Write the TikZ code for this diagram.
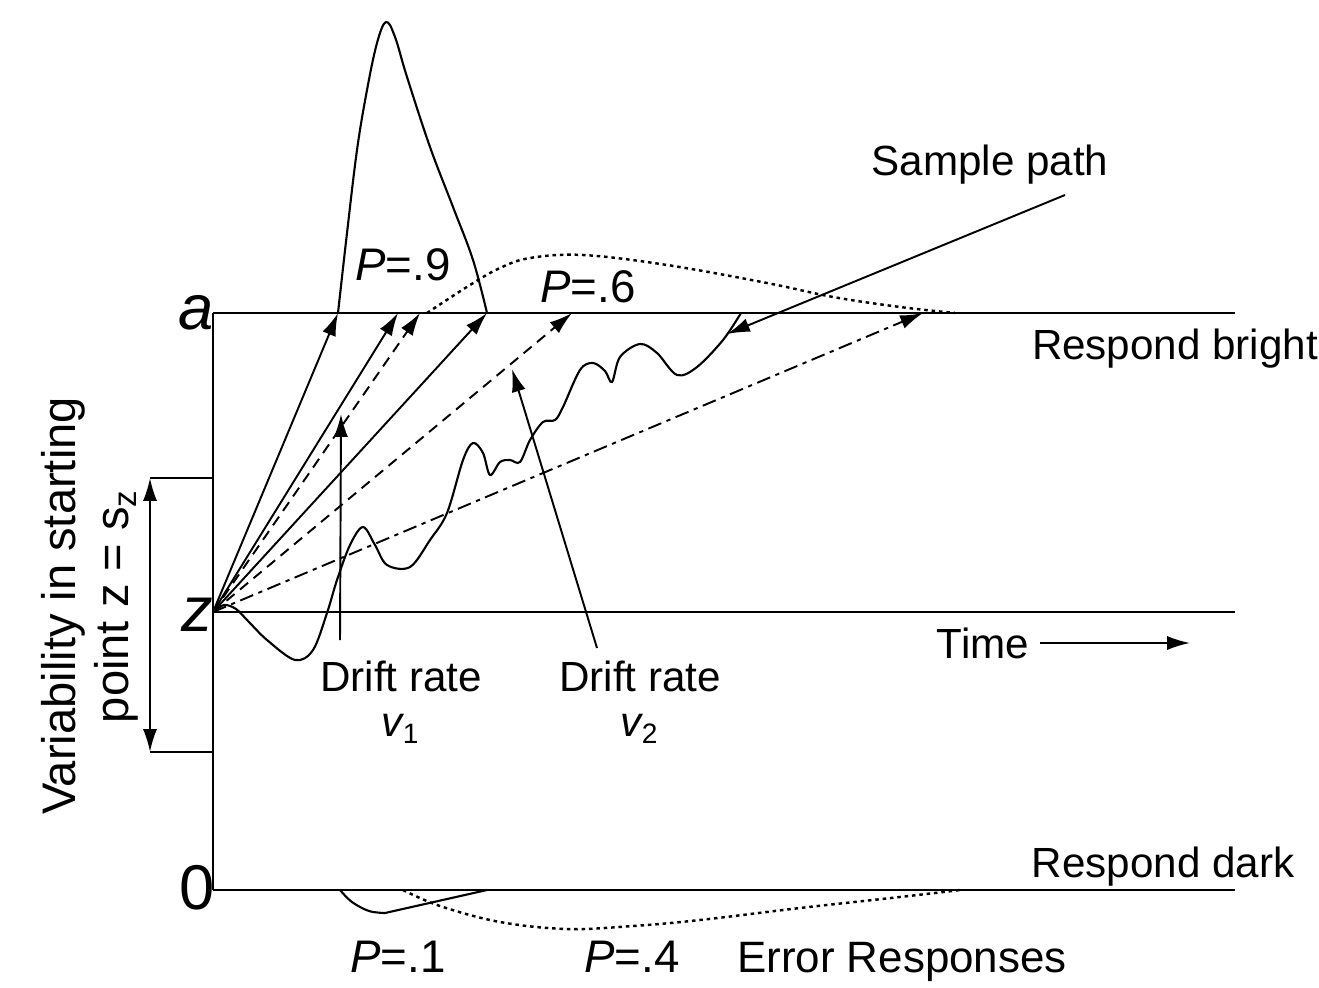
\documentclass[tikz,border=0pt]{standalone}
\usepackage{fontspec}
\setmainfont{Liberation Sans}
\usetikzlibrary{arrows.meta}

\begin{document}
\begin{tikzpicture}[x=0.1mm, y=-0.1mm,
      every node/.style={font=\fontsize{12}{13}\selectfont, inner sep=0pt},
      axis/.style={draw=black, line width=0.65pt},
      curve/.style={draw=black, line width=0.6pt},
      dots/.style={draw=black, line width=0.7pt, dash pattern=on 1pt off 1.1pt},
      pointer/.style={draw=black, line width=0.55pt, -{Latex[length=6.5pt,width=4pt]}},
      driftdash/.style={pointer, dash pattern=on 3pt off 2pt},
      driftlong/.style={pointer, dash pattern=on 4pt off 1.6pt on 1.2pt off 1.6pt},
      biglbl/.style={font=\fontsize{18}{18}\selectfont},
      plbl/.style={font=\fontsize{13}{14}\selectfont, anchor=base}]

    \useasboundingbox (0,0) rectangle (1319,987);

    % boundaries and start point
    \coordinate (a0) at (213,313);   \coordinate (aE) at (1235,313);
    \coordinate (z0) at (213,612);   \coordinate (zE) at (1235,612);
    \coordinate (o0) at (213,890);   \coordinate (oE) at (1235,890);
    \draw[axis] (a0) -- (aE);
    \draw[axis] (z0) -- (zE);
    \draw[axis] (o0) -- (oE);
    \draw[axis] (a0) -- (o0);
    \node[biglbl, font=\fontsize{18}{18}\selectfont\itshape] (lblA) at (196,313) {a};
    \node[biglbl, font=\fontsize{18}{18}\selectfont\itshape] (lblZ) at (197,615) {z};
    \node[biglbl] (lblO) at (197,888) {0};

    % range of starting point
    \coordinate (brTa) at (213,478);  \coordinate (brT) at (150,478);
    \coordinate (brBa) at (213,752);  \coordinate (brB) at (150,752);
    \draw[axis, line width=0.55pt] (brTa) -- (brT);
    \draw[axis, line width=0.55pt] (brBa) -- (brB);
    \draw[pointer, {Latex[length=6.5pt,width=4pt]}-{Latex[length=6.5pt,width=4pt]}] (brT) -- (brB);
    \node[rotate=90, align=center, font=\fontsize{13.4}{15}\selectfont] (szLbl) at (90,606)
      {Variability in starting\\point z = s\textsubscript{z}};

    % distributions of finishing times
    \draw[curve] plot[smooth, tension=0.6] coordinates {(338,313) (347,233) (357,150) (367,90)
      (377,43) (386,22) (395,37) (407,77) (430,147) (453,207) (473,260) (487,313)};
    \draw[dots] plot[smooth, tension=0.6] coordinates {(427,313) (470,285) (500,268) (530,258)
      (583,255) (667,265) (767,283) (833,297) (900,307) (955,313)};
    \draw[curve] plot[smooth, tension=0.6] coordinates {(340,890) (352,902) (369,911) (385,913)}
      -- (487,890);
    \draw[dots] plot[smooth, tension=0.6] coordinates {(403,890) (440,906) (500,922) (567,929)
      (633,926) (700,920) (800,908) (900,897) (960,890)};

    % drift rates from z
    \coordinate (hit1) at (338,313);
    \coordinate (hit2) at (398,313);
    \coordinate (hit3) at (420,313);
    \coordinate (hit4) at (487,313);
    \coordinate (hit5) at (572,313);
    \coordinate (hit6) at (923,313);
    \draw[pointer] (z0) -- (hit1);
    \draw[pointer] (z0) -- (hit2);
    \draw[driftdash] (z0) -- (hit3);
    \draw[pointer] (z0) -- (hit4);
    \draw[driftdash] (z0) -- (hit5);
    \draw[driftlong] (z0) -- (hit6);

    % sample path
    \draw[curve] plot[smooth, tension=0.55] coordinates {(213,612) (224,605) (236,609) (248,621)
      (267,640) (295,660) (313,650) (327,613) (337,580) (350,545) (363,527) (375,545)
      (387,565) (410,567) (430,540) (447,513) (463,460) (473,443) (483,453) (490,475)
      (500,462) (510,460) (520,462) (530,440) (543,422) (555,420) (563,407) (580,370)
      (593,363) (605,371) (612,382) (620,357) (640,344) (657,353) (677,375) (697,367)
      (723,340) (741,313)};

    % labels
    \node[plbl] (p9) at (403,281) {{\itshape P}=.9};
    \node[plbl] (p6) at (588,303) {{\itshape P}=.6};
    \node[plbl] (p1) at (398,972) {{\itshape P}=.1};
    \node[plbl] (p4) at (632,972) {{\itshape P}=.4};
    \node[anchor=base, font=\fontsize{12.5}{14}\selectfont] (err) at (902,972) {Error Responses};
    \node[anchor=base] (bright) at (1175,360) {Respond bright};
    \node[anchor=base] (dark) at (1163,877) {Respond dark};
    \node[anchor=base] (sample) at (990,176) {Sample path};
    \node[anchor=base] (time) at (983,658) {Time};
    \node[align=center, anchor=north] (v1lbl) at (401,660) {Drift rate\\{\itshape v}\textsubscript{1}};
    \node[align=center, anchor=north] (v2lbl) at (640,660) {Drift rate\\{\itshape v}\textsubscript{2}};

    % pointers from labels
    \coordinate (spFrom) at (1065,195);  \coordinate (spTo) at (727,334);
    \draw[pointer] (spFrom) -- (spTo);
    \coordinate (v1From) at (340,640);  \coordinate (v1To) at (341,414);
    \draw[pointer] (v1From) -- (v1To);
    \coordinate (v2From) at (597,648);  \coordinate (v2To) at (512,369);
    \draw[pointer] (v2From) -- (v2To);
    \coordinate (timeFrom) at (1040,643);  \coordinate (timeTo) at (1190,643);
    \draw[pointer] (timeFrom) -- (timeTo);
  \end{tikzpicture}
\end{document}
